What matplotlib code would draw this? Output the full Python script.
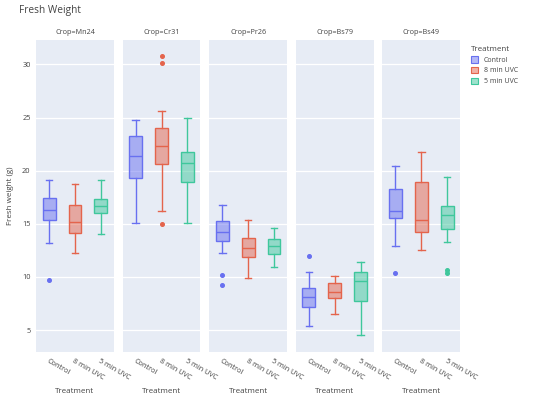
import matplotlib.pyplot as plt
from matplotlib.patches import Patch
from matplotlib.colors import to_rgba

plt.rcParams['font.family'] = ['Open Sans', 'DejaVu Sans']

crops = ['Mn24', 'Cr31', 'Pr26', 'Bs79', 'Bs49']
treatments = ['Control', '8 min UVC', '5 min UVC']
colors = ['#6870F0', '#E4644C', '#3FC79C']

# box statistics, one row per crop, one value per treatment
whis_lo = [[13.2, 12.3, 14.0], [15.1, 16.2, 15.1], [12.3, 9.9, 10.9], [5.4, 6.5, 4.5], [12.9, 12.5, 13.3]]
q1 = [[15.4, 14.1, 16.0], [19.3, 20.6, 18.9], [13.4, 11.9, 12.2], [7.2, 8.0, 7.75], [15.5, 14.2, 14.5]]
median = [[16.3, 15.2, 16.7], [21.4, 22.3, 20.75], [14.25, 12.75, 12.95], [8.1, 8.6, 9.65], [16.25, 15.4, 15.8]]
q3 = [[17.4, 16.8, 17.35], [23.3, 24.0, 21.8], [15.25, 13.65, 13.6], [9.0, 9.4, 10.45], [18.3, 18.9, 16.7]]
whis_hi = [[19.15, 18.75, 19.1], [24.8, 25.6, 24.95], [16.8, 15.4, 14.6], [10.45, 10.05, 11.4], [20.4, 21.75, 19.45]]
outliers = [
    [[9.7], [], []],
    [[], [30.8, 30.1, 15.0], []],
    [[10.2, 9.2], [], []],
    [[12.0], [], []],
    [[10.4], [], [10.7, 10.4]],
]

text_color = '#444444'

fig, axes = plt.subplots(1, 5, figsize=(5.4, 3.99), dpi=100, sharey=True)
fig.subplots_adjust(left=0.067, right=0.852, top=0.90, bottom=0.118, wspace=0.116)

for i, ax in enumerate(axes):
    ax.set_facecolor('#E7ECF5')
    for s in ax.spines.values():
        s.set_visible(False)
    ax.grid(axis='y', color='white', linewidth=0.9)
    ax.set_axisbelow(True)
    for j, t in enumerate(treatments):
        st = dict(med=median[i][j], q1=q1[i][j], q3=q3[i][j],
                  whislo=whis_lo[i][j], whishi=whis_hi[i][j], fliers=outliers[i][j])
        c = colors[j]
        ax.bxp([st], positions=[j], widths=0.5, capwidths=0.25, patch_artist=True,
               boxprops=dict(facecolor=to_rgba(c, 0.5), edgecolor=c, linewidth=1.0),
               medianprops=dict(color=c, linewidth=1.0),
               whiskerprops=dict(color=c, linewidth=1.0),
               capprops=dict(color=c, linewidth=1.0),
               flierprops=dict(marker='o', markersize=2.6, markerfacecolor=c,
                               markeredgecolor=c, linestyle='none'))
    ax.set_xlim(-0.5, 2.5)
    ax.set_ylim(2.95, 32.3)
    ax.set_xticks(range(3))
    ax.set_xticklabels(treatments, rotation=-30, ha='left', rotation_mode='anchor',
                       fontsize=5.2, color=text_color)
    ax.set_yticks([5, 10, 15, 20, 25, 30])
    ax.tick_params(length=0, pad=4, labelsize=5.3, labelcolor=text_color)
    ax.set_xlabel('Treatment', fontsize=5.8, color=text_color, labelpad=5)
    ax.set_title('Crop=' + crops[i], fontsize=5.2, color=text_color, pad=4)

axes[0].set_ylabel('Fresh weight (g)', fontsize=5.8, color=text_color, labelpad=6)

fig.text(19 / 540, 1 - 10 / 399, 'Fresh Weight', fontsize=7.3, color=text_color, va='center')

handles = [Patch(facecolor=to_rgba(c, 0.5), edgecolor=c, linewidth=0.8) for c in colors]
leg = fig.legend(handles, treatments, title='Treatment', loc='upper left',
                 bbox_to_anchor=(465 / 540, 1 - 40 / 399), frameon=False,
                 fontsize=5.0, title_fontsize=5.8, alignment='left',
                 handlelength=1.0, handleheight=1.0, handletextpad=0.8, labelspacing=0.45)
for txt in leg.get_texts():
    txt.set_color(text_color)
leg.get_title().set_color(text_color)

fig.savefig('out.png', dpi=100)
